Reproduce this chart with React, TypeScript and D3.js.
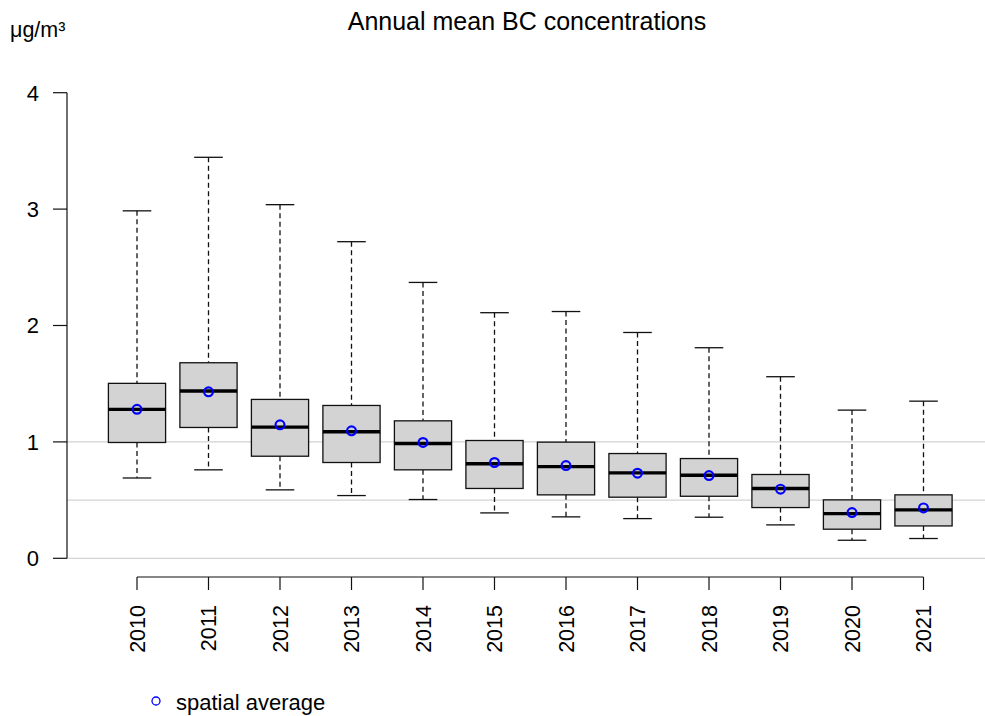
import React from "react";
import * as d3 from "d3";

const years = ["2010", "2011", "2012", "2013", "2014", "2015", "2016", "2017", "2018", "2019", "2020", "2021"];
const upperWhisker = [2.985, 3.445, 3.038, 2.72, 2.37, 2.11, 2.12, 1.94, 1.809, 1.56, 1.273, 1.35];
const q3 = [1.503, 1.68, 1.365, 1.313, 1.181, 1.012, 0.998, 0.9, 0.857, 0.72, 0.502, 0.545];
const medians = [1.279, 1.437, 1.127, 1.087, 0.986, 0.812, 0.788, 0.734, 0.714, 0.6, 0.384, 0.416];
const q1 = [0.995, 1.124, 0.877, 0.823, 0.76, 0.6, 0.545, 0.525, 0.533, 0.436, 0.25, 0.278];
const lowerWhisker = [0.69, 0.76, 0.588, 0.539, 0.505, 0.39, 0.356, 0.341, 0.353, 0.287, 0.155, 0.17];
const means = [1.28, 1.43, 1.147, 1.095, 0.995, 0.823, 0.797, 0.731, 0.711, 0.594, 0.393, 0.433];
const yTicks = [0, 1, 2, 3, 4];
const gridValues = [0, 0.5, 1];

const W = 985;
const H = 716;
const FONT = "'Liberation Sans', Arial, sans-serif";

export default function App() {
  const x = d3.scalePoint<string>().domain(years).range([137, 923.5]);
  const y = d3.scaleLinear().domain([0, 4]).range([558.3, 92.7]);
  const step = x.step();
  const boxW = step * 0.8;
  const capW = boxW / 2;
  const stroke = "#111";

  return (
    <svg
      width={W}
      height={H}
      style={{ position: "absolute", left: 0, top: 0, background: "#fff" }}
      fontFamily={FONT}
    >
      <rect x={0} y={0} width={W} height={H} fill="#fff" />
      {gridValues.map((g) => (
        <line key={g} x1={67} x2={W} y1={y(g)} y2={y(g)} stroke="#c8c8c8" strokeWidth={1} />
      ))}
      <text x={527} y={30} fontSize={25} textAnchor="middle" fill="#000">
        Annual mean BC concentrations
      </text>
      <text x={10} y={37} fontSize={21.5} fill="#000">
        μg/m³
      </text>
      <line x1={67} x2={67} y1={y(0)} y2={y(4)} stroke={stroke} strokeWidth={1.2} />
      {yTicks.map((t) => (
        <g key={t}>
          <line x1={53} x2={67} y1={y(t)} y2={y(t)} stroke={stroke} strokeWidth={1.2} />
          <text x={39} y={y(t)} dy="0.36em" fontSize={22} textAnchor="end" fill="#000">
            {t}
          </text>
        </g>
      ))}
      <line x1={x(years[0])} x2={x(years[years.length - 1])} y1={577} y2={577} stroke={stroke} strokeWidth={1.2} />
      {years.map((yr) => {
        const cx = x(yr) as number;
        return (
          <g key={yr}>
            <line x1={cx} x2={cx} y1={577} y2={590} stroke={stroke} strokeWidth={1.2} />
            <text
              transform={`translate(${cx},605) rotate(-90)`}
              dy="0.36em"
              fontSize={21.5}
              textAnchor="end"
              fill="#000"
            >
              {yr}
            </text>
          </g>
        );
      })}
      {years.map((yr, i) => {
        const cx = x(yr) as number;
        return (
          <g key={"b" + yr}>
            <line x1={cx} x2={cx} y1={y(upperWhisker[i])} y2={y(q3[i])} stroke={stroke} strokeWidth={1.3} strokeDasharray="5,3.5" />
            <line x1={cx} x2={cx} y1={y(q1[i])} y2={y(lowerWhisker[i])} stroke={stroke} strokeWidth={1.3} strokeDasharray="5,3.5" />
            <line x1={cx - capW / 2} x2={cx + capW / 2} y1={y(upperWhisker[i])} y2={y(upperWhisker[i])} stroke={stroke} strokeWidth={1.3} />
            <line x1={cx - capW / 2} x2={cx + capW / 2} y1={y(lowerWhisker[i])} y2={y(lowerWhisker[i])} stroke={stroke} strokeWidth={1.3} />
            <rect
              x={cx - boxW / 2}
              y={y(q3[i])}
              width={boxW}
              height={y(q1[i]) - y(q3[i])}
              fill="#d3d3d3"
              stroke={stroke}
              strokeWidth={1.3}
            />
            <line x1={cx - boxW / 2} x2={cx + boxW / 2} y1={y(medians[i])} y2={y(medians[i])} stroke="#000" strokeWidth={3.4} />
            <circle cx={cx} cy={y(means[i])} r={4.4} fill="none" stroke="#0000ff" strokeWidth={2.2} />
          </g>
        );
      })}
      <circle cx={156} cy={701} r={4} fill="none" stroke="#0000ff" strokeWidth={1.3} />
      <text x={176} y={710} fontSize={22} fill="#000">
        spatial average
      </text>
    </svg>
  );
}
